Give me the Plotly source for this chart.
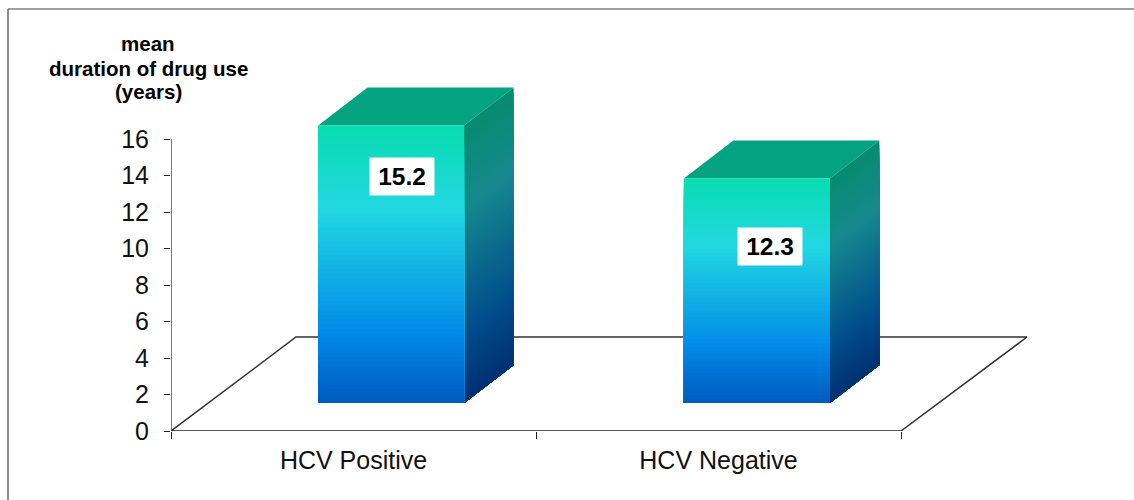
import plotly.graph_objects as go

categories = ["HCV Positive", "HCV Negative"]
values = [15.2, 12.3]
value_labels = ["15.2", "12.3"]
y_ticks = [0, 2, 4, 6, 8, 10, 12, 14, 16]
x_boundaries = [0, 1, 2]
y_title_lines = ["mean", "duration of drug use", "(years)"]

FONT = "Liberation Sans, Arial, sans-serif"
PX_X = 365.0   # pixels per x unit
PX_Y = 18.25   # pixels per y unit

bar_centers = [0.603, 1.605]
bar_width = 0.4
depth_x = 49.5 / PX_X
depth_y = 38 / PX_Y
base_y = 28 / PX_Y
label_y = [13.92, 10.1]
label_x = [231 / PX_X, 599 / PX_X]
floor_dx = 125 / PX_X
floor_dy = 94 / PX_Y
floor_right = 856 / PX_X

front_stops = [(0.0, (8, 220, 176)), (0.3, (34, 216, 226)), (0.76, (0, 136, 232)), (1.0, (0, 90, 190))]
side_stops = [(0.0, (6, 140, 110)), (0.3, (22, 136, 142)), (0.76, (0, 76, 140)), (1.0, (0, 48, 112))]
top_color = "rgb(4,164,130)"
N = 60


def ramp(stops, t):
    for (a, ca), (b, cb) in zip(stops, stops[1:]):
        if t <= b:
            f = (t - a) / (b - a)
            c = [round(p + (q - p) * f) for p, q in zip(ca, cb)]
            return f"rgb({c[0]},{c[1]},{c[2]})"
    c = stops[-1][1]
    return f"rgb({c[0]},{c[1]},{c[2]})"


fig = go.Figure()


def poly(xs, ys, color):
    fig.add_trace(go.Scatter(x=xs, y=ys, mode="lines", fill="toself", fillcolor=color,
                             line=dict(width=0, color=color), hoverinfo="skip", showlegend=False))


def outline(xs, ys, color, width):
    fig.add_trace(go.Scatter(x=xs, y=ys, mode="lines", line=dict(color=color, width=width),
                             hoverinfo="skip", showlegend=False, cliponaxis=False))


# floor
outline([0, floor_dx, floor_right, x_boundaries[-1]], [0, floor_dy, floor_dy, 0], "#303030", 1.5)
# axes
outline([0, 0], [y_ticks[0], y_ticks[-1]], "#222222", 1.2)
outline([x_boundaries[0], x_boundaries[-1]], [0, 0], "#222222", 1.5)

for c, v in zip(bar_centers, values):
    x0, x1 = c - bar_width / 2, c + bar_width / 2
    top = base_y + v
    poly([x0, x0 + depth_x, x1 + depth_x, x1], [top, top + depth_y, top + depth_y, top], top_color)
    for i in range(N):
        y = top - i / N * v
        poly([x1, x1 + depth_x, x1 + depth_x, x1],
             [y, y + depth_y, base_y + depth_y, base_y], ramp(side_stops, (i + 0.5) / N))
    for i in range(N):
        y = top - i / N * v
        poly([x0, x1, x1, x0], [y, y, base_y, base_y], ramp(front_stops, (i + 0.5) / N))

annotations = []
for lx, ly, txt in zip(label_x, label_y, value_labels):
    annotations.append(dict(x=lx, y=ly, text=f"<b>{txt}</b>", showarrow=False,
                            bgcolor="white", width=62, height=35, valign="middle", align="center",
                            font=dict(family=FONT, size=24.5, color="black")))
for line, py in zip(y_title_lines, [44, 68, 91]):
    annotations.append(dict(xref="paper", yref="paper", xanchor="center", yanchor="middle",
                            x=(148 - 171) / 863, y=(431 - py) / 347,
                            text=f"<b>{line}</b>", showarrow=False,
                            font=dict(family=FONT, size=20.5, color="black")))

fig.update_layout(
    width=1134, height=500,
    margin=dict(l=171, r=100, t=84, b=69, pad=0),
    paper_bgcolor="white", plot_bgcolor="white",
    showlegend=False,
    font=dict(family=FONT, size=25, color="#111111"),
    annotations=annotations,
    xaxis=dict(
        range=[0, 863 / PX_X], showgrid=False, zeroline=False, showline=False,
        tickmode="array", tickvals=[0.5, 1.5], ticktext=categories, ticks="",
        ticklabelstandoff=12,
        minor=dict(tickmode="array", tickvals=x_boundaries, ticks="outside", ticklen=7,
                   tickwidth=1.2, tickcolor="#222222", showgrid=False),
    ),
    yaxis=dict(
        range=[0, 347 / PX_Y], showgrid=False, zeroline=False, showline=False,
        tickmode="array", tickvals=y_ticks, ticks="outside", ticklen=6, tickwidth=1.2,
        tickcolor="#222222", ticklabelstandoff=10,
    ),
    shapes=[
        dict(type="line", xref="paper", yref="paper",
             x0=(8 - 171) / 863, x1=(1134 - 171) / 863,
             y0=(431 - 9) / 347, y1=(431 - 9) / 347,
             line=dict(color="#808080", width=1.5)),
        dict(type="line", xref="paper", yref="paper",
             x0=(8 - 171) / 863, x1=(8 - 171) / 863,
             y0=(431 - 9) / 347, y1=(431 - 500) / 347,
             line=dict(color="#404040", width=1.2)),
    ],
)

fig.write_html("out.html", config={"displayModeBar": False},
               post_script="document.body.style.margin='0';document.body.style.overflow='hidden';")
